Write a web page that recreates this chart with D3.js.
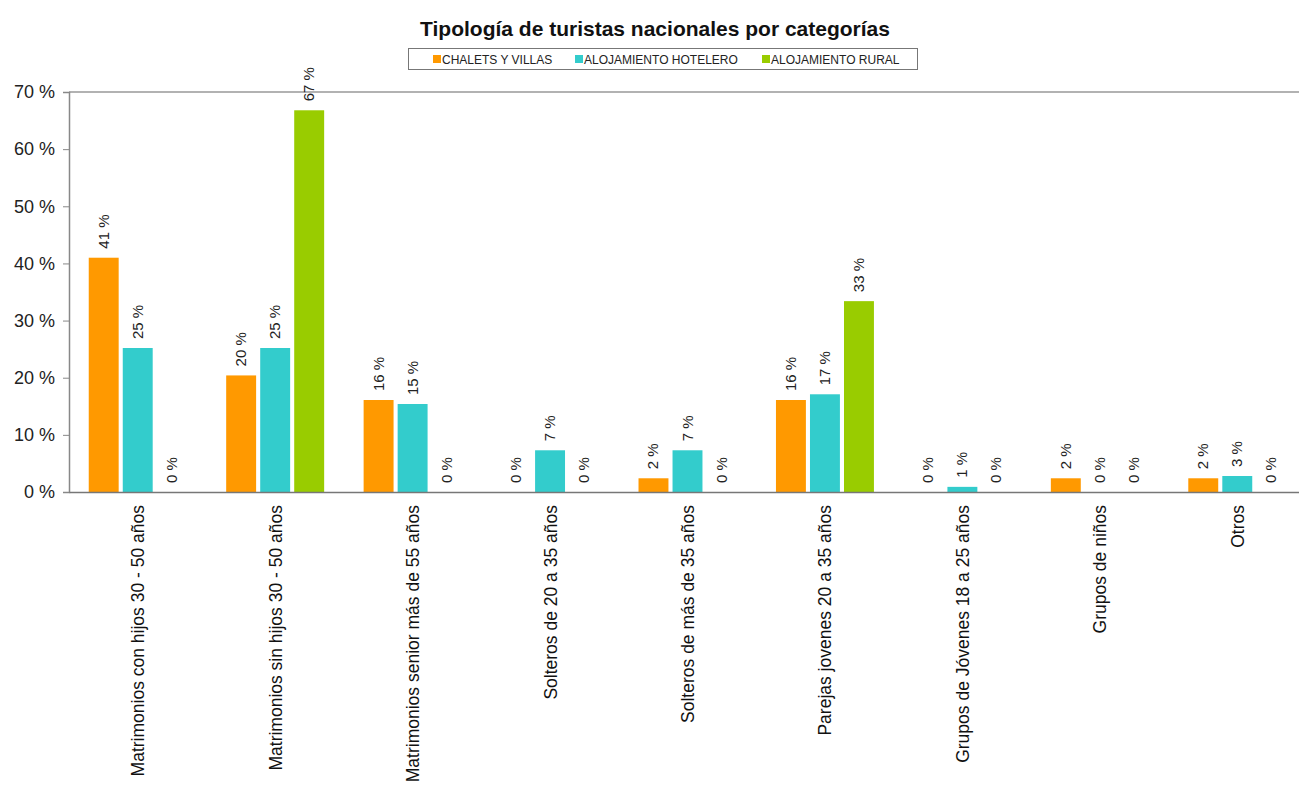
<!DOCTYPE html>
<html>
<head>
<meta charset="utf-8">
<script src="https://cdn.jsdelivr.net/npm/d3@7"></script>
<style>
  html, body { margin: 0; padding: 0; background: #fff; }
  svg { display: block; font-family: "Liberation Sans", Arial, sans-serif; }
</style>
</head>
<body>
<svg id="chart" width="1299" height="793"></svg>
<script>
const title = "Tipología de turistas nacionales por categorías";
const categories = [
  "Matrimonios con hijos 30 - 50 años",
  "Matrimonios sin hijos 30 - 50 años",
  "Matrimonios senior más de 55 años",
  "Solteros de 20 a 35 años",
  "Solteros de más de 35 años",
  "Parejas jovenes 20 a 35 años",
  "Grupos de Jóvenes 18 a 25 años",
  "Grupos de niños",
  "Otros"
];
const seriesNames = ["CHALETS Y VILLAS", "ALOJAMIENTO HOTELERO", "ALOJAMIENTO RURAL"];
const seriesColors = ["#FF9900", "#33CCCC", "#99CC00"];
const chalets  = [41.0, 20.4, 16.1, 0, 2.4, 16.1, 0, 2.4, 2.4];
const hotelero = [25.2, 25.2, 15.4, 7.3, 7.3, 17.1, 0.9, 0, 2.8];
const rural    = [0, 66.8, 0, 0, 0, 33.4, 0, 0, 0];
const seriesValues = [chalets, hotelero, rural];
const yTicks = [0, 10, 20, 30, 40, 50, 60, 70];

const svg = d3.select("#chart");
const pLeft = 69, pRight = 1306, pTop = 92, pBottom = 492;

const x0 = d3.scaleBand().domain(categories).range([pLeft, pRight]).padding(0);
const bw = x0.bandwidth();
const x1 = d3.scaleBand().domain(seriesNames)
  .range([bw * 0.1436, bw * 0.8564]).paddingInner(0.12).paddingOuter(0);
const y = d3.scaleLinear().domain([0, 70]).range([pBottom, pTop]);

// Title
svg.append("text")
  .attr("x", 655).attr("y", 36)
  .attr("text-anchor", "middle")
  .style("font-size", "21px").style("font-weight", "bold").style("fill", "#111")
  .text(title);

// Legend
const lg = svg.append("g");
lg.append("rect").attr("x", 408.5).attr("y", 48.5).attr("width", 509).attr("height", 21)
  .attr("fill", "#fff").attr("stroke", "#777").attr("stroke-width", 1);
const legendX = [433, 575, 762];
seriesNames.forEach((s, i) => {
  lg.append("rect").attr("x", legendX[i]).attr("y", 55).attr("width", 8).attr("height", 8)
    .attr("fill", seriesColors[i]);
  lg.append("text").attr("x", legendX[i] + 9).attr("y", 63.5)
    .style("font-size", "12px").style("fill", "#222").text(s);
});

// Top frame line
svg.append("line").attr("x1", pLeft).attr("x2", 1299).attr("y1", pTop).attr("y2", pTop)
  .attr("stroke", "#999").attr("stroke-width", 1.5);

// Bars
const groups = svg.append("g").selectAll("g").data(categories).join("g")
  .attr("transform", d => `translate(${x0(d)},0)`);
groups.each(function(cat, ci) {
  const g = d3.select(this);
  seriesNames.forEach((s, si) => {
    const v = seriesValues[si][ci];
    g.append("rect")
      .attr("x", x1(s)).attr("width", x1.bandwidth())
      .attr("y", y(v)).attr("height", y(0) - y(v))
      .attr("fill", seriesColors[si]);
    const cx = x1(s) + x1.bandwidth() / 2;
    const ty = y(v) - 9;
    g.append("text")
      .attr("transform", `translate(${cx + 5},${ty}) rotate(-90)`)
      .attr("text-anchor", "start")
      .style("font-size", "15px").style("fill", "#222")
      .text(Math.round(v) + " %");
  });
});

// Y axis
const yAxis = d3.axisLeft(y).tickValues(yTicks).tickSize(6).tickPadding(8)
  .tickFormat(d => d + " %");
const ya = svg.append("g").attr("transform", `translate(${pLeft},0)`).call(yAxis);
ya.select(".domain").attr("stroke", "#888").attr("stroke-width", 1.5);
ya.selectAll(".tick line").attr("stroke", "#888");
ya.selectAll(".tick text").style("font-size", "18px").style("fill", "#222")
  .style("font-family", "Liberation Sans, Arial, sans-serif");

// X axis
const xAxis = d3.axisBottom(x0).tickSize(0).tickPadding(0);
const xa = svg.append("g").attr("transform", `translate(0,${pBottom})`).call(xAxis);
xa.select(".domain").attr("stroke", "#777").attr("stroke-width", 1.5);
xa.selectAll(".tick text")
  .attr("transform", "translate(6.5,13) rotate(-90)")
  .attr("text-anchor", "end").attr("dy", 0).attr("y", 0).attr("x", 0)
  .style("font-size", "17.5px").style("fill", "#111")
  .style("font-family", "Liberation Sans, Arial, sans-serif");
</script>
</body>
</html>
